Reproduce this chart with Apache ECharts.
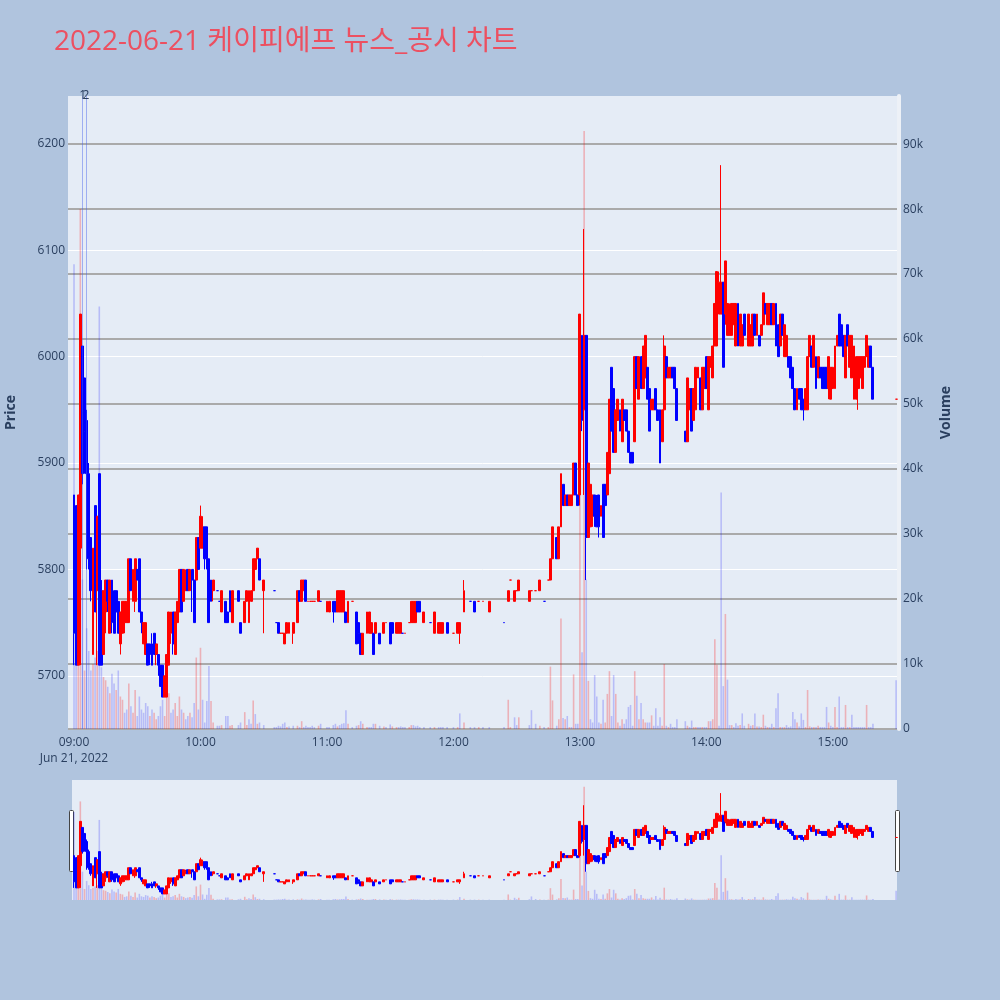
<!DOCTYPE html>
<html>
<head>
<meta charset="utf-8">
<title>케이피에프 뉴스_공시 차트</title>
<script src="https://cdn.jsdelivr.net/npm/echarts@6/dist/echarts.min.js"></script>
<style>
  html, body { margin: 0; padding: 0; background: #b0c4de; }
  #chart { width: 1000px; height: 1000px; }
</style>
</head>
<body>
<div id="chart"></div>
<script>
// 1분봉 (체결 있는 분만)
const times = [
  '09:00','09:01','09:02','09:03','09:04','09:05','09:06','09:07','09:08','09:09',
  '09:10','09:11','09:12','09:13','09:14','09:15','09:16','09:17','09:18','09:19',
  '09:20','09:21','09:22','09:23','09:24','09:25','09:26','09:27','09:28','09:29',
  '09:30','09:31','09:32','09:33','09:34','09:35','09:36','09:37','09:38','09:39',
  '09:40','09:41','09:42','09:43','09:44','09:45','09:46','09:47','09:48','09:49',
  '09:50','09:51','09:52','09:53','09:54','09:55','09:56','09:57','09:58','09:59',
  '10:00','10:01','10:02','10:03','10:04','10:05','10:06','10:08','10:09','10:10',
  '10:12','10:13','10:14','10:15','10:18','10:19','10:21','10:22','10:23','10:24',
  '10:25','10:26','10:27','10:28','10:30','10:35','10:36','10:37','10:38','10:39',
  '10:40','10:41','10:42','10:44','10:46','10:47','10:48','10:49','10:50','10:51',
  '10:52','10:53','10:54','10:56','10:57','11:00','11:01','11:03','11:04','11:05',
  '11:06','11:07','11:08','11:09','11:10','11:12','11:14','11:15','11:16','11:17',
  '11:19','11:20','11:21','11:22','11:23','11:25','11:27','11:28','11:30','11:31',
  '11:33','11:34','11:35','11:36','11:37','11:39','11:40','11:41','11:42','11:43',
  '11:44','11:46','11:49','11:51','11:53','11:54','11:55','11:57','12:00','12:02',
  '12:03','12:05','12:08','12:10','12:12','12:14','12:17','12:24','12:26','12:27',
  '12:29','12:30','12:31','12:36','12:37','12:39','12:41','12:43','12:45','12:46',
  '12:47','12:49','12:50','12:51','12:52','12:53','12:54','12:55','12:56','12:57',
  '12:58','12:59','13:00','13:01','13:02','13:03','13:04','13:05','13:06','13:07',
  '13:08','13:09','13:10','13:11','13:12','13:13','13:14','13:15','13:16','13:17',
  '13:18','13:19','13:20','13:21','13:22','13:23','13:24','13:25','13:26','13:27',
  '13:28','13:29','13:30','13:31','13:32','13:33','13:34','13:35','13:36','13:37',
  '13:38','13:39','13:40','13:41','13:42','13:43','13:44','13:45','13:46','13:50',
  '13:51','13:52','13:53','13:54','13:55','13:56','13:57','13:58','13:59','14:00',
  '14:01','14:02','14:03','14:04','14:05','14:06','14:07','14:08','14:09','14:10',
  '14:11','14:12','14:13','14:14','14:15','14:16','14:17','14:18','14:20','14:21',
  '14:22','14:23','14:24','14:25','14:26','14:27','14:28','14:29','14:30','14:31',
  '14:32','14:33','14:34','14:35','14:36','14:37','14:38','14:39','14:40','14:41',
  '14:42','14:43','14:44','14:45','14:46','14:47','14:48','14:49','14:50','14:51',
  '14:52','14:53','14:54','14:55','14:56','14:57','14:58','14:59','15:00','15:01',
  '15:02','15:03','15:04','15:05','15:06','15:07','15:08','15:09','15:10','15:11',
  '15:12','15:13','15:14','15:15','15:16','15:17','15:18','15:19','15:30'
];
const opens = [
  5870,5860,5710,5820,6010,5980,5940,5890,5830,5720,
  5860,5780,5890,5780,5720,5760,5790,5740,5790,5780,
  5780,5770,5730,5740,5750,5750,5750,5810,5770,5770,
  5800,5810,5760,5730,5720,5730,5730,5730,5740,5720,
  5720,5710,5710,5680,5680,5710,5740,5760,5720,5750,
  5760,5800,5770,5780,5800,5780,5800,5790,5790,5830,
  5820,5820,5840,5840,5810,5790,5780,5780,5770,5760,
  5770,5760,5780,5750,5780,5750,5750,5770,5750,5770,
  5780,5800,5810,5810,5780,5780,5750,5750,5740,5740,
  5730,5740,5740,5740,5750,5780,5770,5780,5790,5770,
  5770,5770,5770,5770,5770,5760,5760,5770,5770,5760,
  5760,5760,5760,5760,5750,5770,5760,5750,5740,5720,
  5740,5740,5740,5740,5740,5740,5740,5750,5750,5750,
  5740,5740,5740,5740,5740,5750,5750,5750,5750,5770,
  5770,5750,5750,5740,5740,5740,5740,5750,5740,5740,
  5740,5760,5770,5770,5770,5770,5760,5750,5770,5790,
  5770,5780,5780,5770,5780,5780,5780,5770,5790,5790,
  5810,5830,5810,5840,5880,5860,5870,5860,5860,5870,
  5900,5870,5870,6020,5950,6020,5830,5840,5850,5870,
  5860,5870,5850,5880,5880,5870,5890,5990,5970,5910,
  5940,5950,5920,5950,5950,5930,5910,5910,5920,6000,
  5960,6000,5970,5980,5990,5970,5950,5950,5970,5950,
  5950,5920,5950,6000,5980,5980,5990,5990,5970,5930,
  5920,5950,5970,5940,5950,5980,5980,5950,5970,6000,
  5950,5990,5980,6010,6010,6040,6040,6070,6040,6020,
  6020,6020,6030,6010,6050,6010,6010,6040,6010,6010,
  6010,6040,6020,6020,6020,6030,6050,6030,6030,6050,
  6030,6050,6030,6010,6040,6000,6000,6000,6000,5990,
  5970,5950,5970,5970,5960,5950,5950,6000,6010,5990,
  6000,5980,5990,5990,5990,5990,5970,5960,5970,5970,
  6010,6040,6030,6020,5980,6030,5990,5980,5960,5960,
  5970,5980,5970,5990,6000,5990,6010,5990,5960
];
const closes = [
  5740,5710,5870,6040,5890,5930,5890,5810,5780,5820,
  5760,5850,5710,5710,5780,5790,5770,5790,5750,5740,
  5760,5740,5760,5770,5770,5770,5810,5780,5800,5810,
  5790,5760,5750,5750,5750,5710,5720,5710,5720,5730,
  5710,5690,5680,5700,5720,5760,5760,5730,5760,5770,
  5800,5760,5800,5790,5780,5800,5790,5750,5830,5800,
  5850,5840,5810,5810,5750,5770,5790,5780,5770,5780,
  5750,5750,5760,5780,5770,5740,5770,5780,5780,5780,
  5810,5810,5820,5790,5790,5780,5750,5740,5740,5740,
  5740,5750,5750,5750,5780,5770,5790,5790,5770,5770,
  5770,5770,5770,5780,5770,5770,5770,5760,5760,5780,
  5780,5780,5780,5750,5770,5770,5730,5740,5720,5740,
  5760,5760,5750,5720,5750,5730,5750,5750,5730,5740,
  5750,5750,5750,5740,5740,5750,5770,5770,5770,5760,
  5760,5760,5750,5760,5750,5750,5750,5740,5740,5750,
  5750,5780,5770,5760,5770,5770,5770,5750,5780,5790,
  5780,5780,5790,5780,5780,5780,5790,5770,5790,5810,
  5840,5810,5840,5890,5860,5870,5860,5870,5870,5900,
  5870,5860,6040,5940,6020,5830,5900,5880,5870,5850,
  5840,5840,5860,5830,5860,5910,5960,5930,5910,5950,
  5960,5930,5960,5940,5930,5910,5900,5900,6000,5970,
  6000,5970,6010,6020,5960,5930,5960,5960,5950,5940,
  5900,5950,6010,5980,5990,5990,5980,5970,5940,5920,
  5980,5970,5930,5970,5990,5990,5950,5990,5990,5970,
  6000,6000,6010,6050,6080,6070,6070,5990,6090,6050,
  6040,6050,6050,6050,6010,6040,6030,6020,6040,6030,
  6040,6020,6040,6010,6030,6060,6040,6050,6050,6030,
  6050,6010,6000,6040,6020,6030,6020,5990,5980,5970,
  5950,5970,5960,5950,5950,5970,6000,6020,5990,6020,
  5970,6000,5980,5970,5970,5970,6000,5990,5990,6010,
  6020,6010,6010,6000,6020,6010,6020,6020,6010,6000,
  6000,6000,6000,6000,6020,6010,5990,5960,5960
];
const lows = [
  5710,5710,5710,5710,5880,5890,5800,5800,5770,5720,
  5760,5710,5710,5710,5720,5740,5760,5740,5740,5740,
  5750,5740,5720,5740,5740,5750,5750,5780,5770,5760,
  5790,5760,5740,5730,5720,5710,5710,5710,5720,5710,
  5700,5690,5680,5680,5680,5710,5730,5720,5720,5750,
  5760,5760,5770,5780,5780,5780,5760,5750,5790,5800,
  5820,5820,5800,5800,5750,5770,5770,5780,5770,5760,
  5750,5750,5760,5750,5770,5740,5750,5770,5750,5770,
  5780,5800,5810,5790,5740,5780,5750,5740,5740,5740,
  5730,5740,5740,5730,5750,5770,5770,5780,5770,5770,
  5770,5770,5770,5770,5770,5760,5760,5750,5760,5760,
  5760,5760,5760,5750,5750,5770,5730,5730,5720,5720,
  5740,5740,5740,5720,5740,5730,5740,5750,5730,5740,
  5740,5740,5740,5740,5740,5750,5750,5750,5750,5760,
  5760,5750,5750,5740,5740,5740,5740,5740,5740,5740,
  5730,5760,5770,5760,5770,5770,5760,5750,5770,5790,
  5770,5780,5780,5770,5780,5780,5780,5770,5790,5790,
  5810,5810,5810,5840,5860,5860,5860,5860,5860,5870,
  5870,5860,5860,5930,5870,5790,5830,5840,5840,5840,
  5840,5830,5850,5830,5860,5870,5890,5930,5910,5910,
  5940,5930,5920,5940,5930,5910,5900,5900,5920,5970,
  5960,5970,5970,5980,5960,5930,5950,5950,5950,5940,
  5900,5920,5950,5980,5980,5980,5980,5970,5940,5920,
  5920,5950,5930,5940,5950,5980,5950,5950,5970,5970,
  5950,5990,5980,6010,6010,6040,6040,5990,6030,6020,
  6020,6020,6030,6010,6010,6010,6010,6020,6010,6010,
  6010,6020,6020,6010,6020,6030,6040,6030,6030,6030,
  6030,6010,6000,6010,6020,6000,6000,5990,5980,5970,
  5950,5950,5960,5950,5940,5950,5950,6000,5990,5990,
  5970,5980,5980,5970,5970,5970,5960,5960,5970,5970,
  6010,6010,6010,6000,5980,6010,5990,5980,5960,5960,
  5950,5980,5970,5990,6000,5990,5990,5960,5960
];
const highs = [
  5870,5860,5870,6040,6010,5980,5950,5900,5830,5820,
  5860,5850,5890,5790,5780,5790,5790,5790,5790,5780,
  5780,5770,5760,5770,5770,5770,5810,5810,5800,5810,
  5800,5810,5760,5750,5750,5730,5730,5740,5740,5730,
  5720,5710,5710,5700,5720,5760,5760,5760,5760,5770,
  5800,5800,5800,5800,5800,5800,5800,5790,5830,5830,
  5860,5850,5840,5840,5810,5790,5790,5780,5770,5780,
  5770,5760,5780,5780,5780,5750,5770,5780,5780,5780,
  5810,5810,5820,5810,5790,5780,5750,5750,5740,5740,
  5740,5750,5750,5750,5780,5780,5790,5790,5790,5770,
  5770,5770,5770,5780,5770,5770,5770,5770,5770,5780,
  5780,5780,5780,5760,5770,5770,5760,5750,5740,5740,
  5760,5760,5750,5740,5750,5740,5750,5750,5750,5750,
  5750,5750,5750,5740,5740,5750,5770,5770,5770,5770,
  5770,5760,5750,5760,5750,5750,5750,5750,5740,5750,
  5750,5790,5770,5770,5770,5770,5770,5750,5780,5790,
  5780,5780,5790,5780,5780,5780,5790,5770,5790,5810,
  5840,5830,5840,5890,5880,5870,5870,5870,5870,5900,
  5900,5870,6040,6020,6120,6020,5900,5880,5870,5870,
  5870,5870,5860,5880,5880,5910,5960,5990,5970,5950,
  5960,5950,5960,5950,5950,5930,5910,5910,6000,6000,
  6000,6000,6010,6020,5990,5970,5960,5960,5970,5950,
  5950,5950,6020,6000,5990,5990,5990,5990,5970,5930,
  5980,5970,5970,5970,5990,5990,5980,5990,5990,6000,
  6000,6000,6010,6050,6080,6080,6180,6070,6090,6050,
  6050,6050,6050,6050,6050,6040,6030,6040,6040,6030,
  6040,6040,6040,6020,6030,6060,6050,6050,6050,6050,
  6050,6050,6030,6040,6040,6030,6020,6000,6000,5990,
  5970,5970,5970,5970,5960,5970,6000,6020,6010,6020,
  6000,6000,5990,5990,5990,5990,6000,5990,5990,6010,
  6020,6040,6030,6020,6020,6030,6020,6020,6010,6000,
  6000,6000,6000,6000,6020,6010,6010,5990,5960
];
const volumes = [
  71500,11700,15000,80000,23000,9000,15500,12000,9000,10000,
  11000,12000,65000,9500,8000,7500,6500,5500,8500,7000,
  6000,9000,5000,4500,2500,3000,7000,3500,2500,6000,
  2000,5000,3000,2500,4000,3500,2000,3000,2500,1500,
  2000,3500,4500,2000,6000,5500,2500,3000,4000,2000,
  5000,3000,2500,1500,2000,2500,1800,4000,11000,3000,
  12500,4500,1000,4300,9700,4300,1000,500,500,600,
  2000,2000,500,600,600,1000,2600,600,1500,800,
  4400,2300,800,1000,600,300,300,500,400,800,
  1000,300,400,500,500,300,1200,300,500,300,
  300,500,300,500,800,300,300,600,800,400,
  600,800,900,2900,800,300,500,600,1200,800,
  300,300,300,800,800,500,400,300,700,400,
  300,300,400,300,300,300,600,600,400,500,
  300,300,300,300,300,300,300,300,300,300,
  2400,1000,300,300,300,300,300,300,4500,300,
  1800,600,1800,600,2900,800,500,300,300,9600,
  4400,500,1500,17000,1700,1500,2000,300,300,8400,
  800,800,50000,11800,92000,23000,7400,1500,1000,8300,
  5000,1000,800,4500,1000,5400,8900,2000,8300,5400,
  1000,500,1500,800,1500,3400,3700,500,8900,5100,
  1500,4000,1500,1000,1000,1000,2100,500,3200,500,
  1800,500,10000,500,300,800,300,300,1500,1200,
  500,300,1300,300,300,300,300,300,300,300,
  1200,1200,1500,13800,9900,500,36400,6600,17700,7600,
  600,600,300,900,500,600,2400,500,800,500,
  600,2400,400,400,300,2200,500,300,300,800,
  300,3200,5500,300,300,300,600,300,400,2600,
  1500,1000,400,2400,1400,300,6000,400,300,300,
  300,500,300,300,300,3400,1000,500,300,3400,
  300,5000,300,300,3700,300,300,2200,300,300,
  300,300,300,300,3700,300,300,800,7500
];

// 뉴스/공시 시각
const newsTimes = ['09:04:06', '09:05:42'];
const newsLabels = ['1', '2'];

const hourTicks = ['09:00', '10:00', '11:00', '12:00', '13:00', '14:00', '15:00'];
const priceTicks = [5700, 5800, 5900, 6000, 6100, 6200];
const volumeTicks = [0, 10000, 20000, 30000, 40000, 50000, 60000, 70000, 80000, 90000];

const DAY = '2022-06-21';
const FONT = "'Open Sans', 'Noto Sans CJK KR', sans-serif";
const UP = '#ff0000';
const DOWN = '#0000ff';
const UP_VOL = 'rgba(255,0,0,0.25)';
const DOWN_VOL = 'rgba(0,0,255,0.2)';

function toTs(t) {
  return new Date(`${DAY}T${t.length === 5 ? t + ':00' : t}`).getTime();
}

const candleData = times.map((t, i) => [toTs(t), opens[i], closes[i], lows[i], highs[i]]);
const volumeData = times.map((t, i) => {
  const prev = i > 0 ? closes[i - 1] : opens[i];
  return {
    value: [toTs(t), volumes[i]],
    itemStyle: {color: closes[i] > prev ? UP_VOL : DOWN_VOL}
  };
});

const candleStyle = {
  color: UP,
  color0: DOWN,
  borderColor: UP,
  borderColor0: DOWN,
  borderWidth: 1
};

function timeLabel(value) {
  const d = new Date(value);
  const hh = String(d.getHours()).padStart(2, '0');
  const mm = String(d.getMinutes()).padStart(2, '0');
  return d.getHours() === 9 ? `${hh}:${mm}\nJun 21, 2022` : `${hh}:${mm}`;
}

function volLabel(v) {
  return v === 0 ? '0' : (v / 1000) + 'k';
}

const chart = echarts.init(document.getElementById('chart'));
chart.setOption({
  animation: false,
  backgroundColor: '#b0c4de',
  title: {
    text: '2022-06-21 케이피에프 뉴스_공시 차트',
    left: 49,
    top: 23,
    textStyle: {color: '#ec5061', fontSize: 28, fontWeight: 'normal', fontFamily: FONT}
  },
  grid: [
    {left: 68, right: 103, top: 96, height: 633, show: true, backgroundColor: '#e5ecf6', borderWidth: 0, outerBoundsMode: 'none'},
    {left: 72, right: 103, top: 780, height: 120, show: true, backgroundColor: '#e5ecf6', borderWidth: 0, outerBoundsMode: 'none'}
  ],
  xAxis: [
    {
      // 분 단위 타임스탬프를 값 축으로 사용
      type: 'value',
      gridIndex: 0,
      min: toTs('08:57:09'),
      max: toTs('15:30:25'),
      axisLine: {show: false},
      axisTick: {show: false, customValues: hourTicks.map(toTs)},
      splitLine: {show: false},
      axisLabel: {
        customValues: hourTicks.map(toTs),
        formatter: timeLabel,
        color: '#2a3f5f',
        fontSize: 12,
        lineHeight: 16,
        margin: 6,
        fontFamily: FONT,
        hideOverlap: false
      }
    },
    {
      type: 'value',
      gridIndex: 1,
      min: toTs('08:59:03'),
      max: toTs('15:30:25'),
      show: false,
      splitLine: {show: false}
    }
  ],
  yAxis: [
    {
      type: 'value',
      gridIndex: 0,
      position: 'left',
      min: 5650,
      max: 6245,
      name: 'Price',
      nameLocation: 'middle',
      nameGap: 50,
      nameTextStyle: {color: '#2a3f5f', fontSize: 14, fontWeight: 'bold', fontFamily: FONT},
      axisLine: {show: false},
      axisTick: {show: false, customValues: priceTicks},
      axisLabel: {customValues: priceTicks, formatter: (v) => String(v), color: '#2a3f5f', fontSize: 12, margin: 3, fontFamily: FONT},
      splitLine: {show: true, lineStyle: {color: '#ffffff', width: 1}}
    },
    {
      type: 'value',
      gridIndex: 0,
      position: 'right',
      offset: 2,
      min: 0,
      max: 97400,
      name: 'Volume',
      nameLocation: 'middle',
      nameGap: 40,
      nameTextStyle: {color: '#2a3f5f', fontSize: 14, fontWeight: 'bold', fontFamily: FONT},
      axisLine: {show: true, lineStyle: {color: '#edf1f7', width: 4}},
      axisTick: {show: false, customValues: volumeTicks},
      axisLabel: {customValues: volumeTicks, formatter: volLabel, color: '#2a3f5f', fontSize: 12, margin: 4, fontFamily: FONT},
      splitLine: {show: true, lineStyle: {color: '#aaaaaa', width: 2}}
    },
    {type: 'value', gridIndex: 1, min: 5650, max: 6245, show: false, splitLine: {show: false}},
    {type: 'value', gridIndex: 1, min: 0, max: 97400, show: false, splitLine: {show: false}}
  ],
  series: [
    {
      name: 'Volume',
      type: 'bar',
      xAxisIndex: 0,
      yAxisIndex: 1,
      data: volumeData,
      barWidth: 1.6,
      silent: true,
      markLine: {
        silent: true,
        symbol: ['none', 'none'],
        lineStyle: {color: 'rgba(70,100,235,0.45)', width: 1, type: 'solid'},
        label: {show: true, position: 'end', distance: -6, formatter: '{b}', color: '#2a3f5f', fontSize: 12, fontFamily: FONT},
        data: newsTimes.map((t, i) => ({xAxis: toTs(t), name: newsLabels[i]}))
      }
    },
    {
      name: 'Price',
      type: 'candlestick',
      xAxisIndex: 0,
      yAxisIndex: 0,
      data: candleData,
      barWidth: 2.4,
      itemStyle: candleStyle
    },
    {
      type: 'bar',
      xAxisIndex: 1,
      yAxisIndex: 3,
      data: volumeData,
      barWidth: 1.6,
      silent: true
    },
    {
      type: 'candlestick',
      xAxisIndex: 1,
      yAxisIndex: 2,
      data: candleData,
      barWidth: 2.4,
      itemStyle: candleStyle,
      silent: true
    }
  ],
  graphic: [
    {type: 'rect', left: 69, top: 810, shape: {width: 4, height: 61, r: 1}, style: {fill: '#ffffff', stroke: '#444444', lineWidth: 1}},
    {type: 'rect', left: 895, top: 810, shape: {width: 4, height: 61, r: 1}, style: {fill: '#ffffff', stroke: '#444444', lineWidth: 1}}
  ]
});
</script>
</body>
</html>
